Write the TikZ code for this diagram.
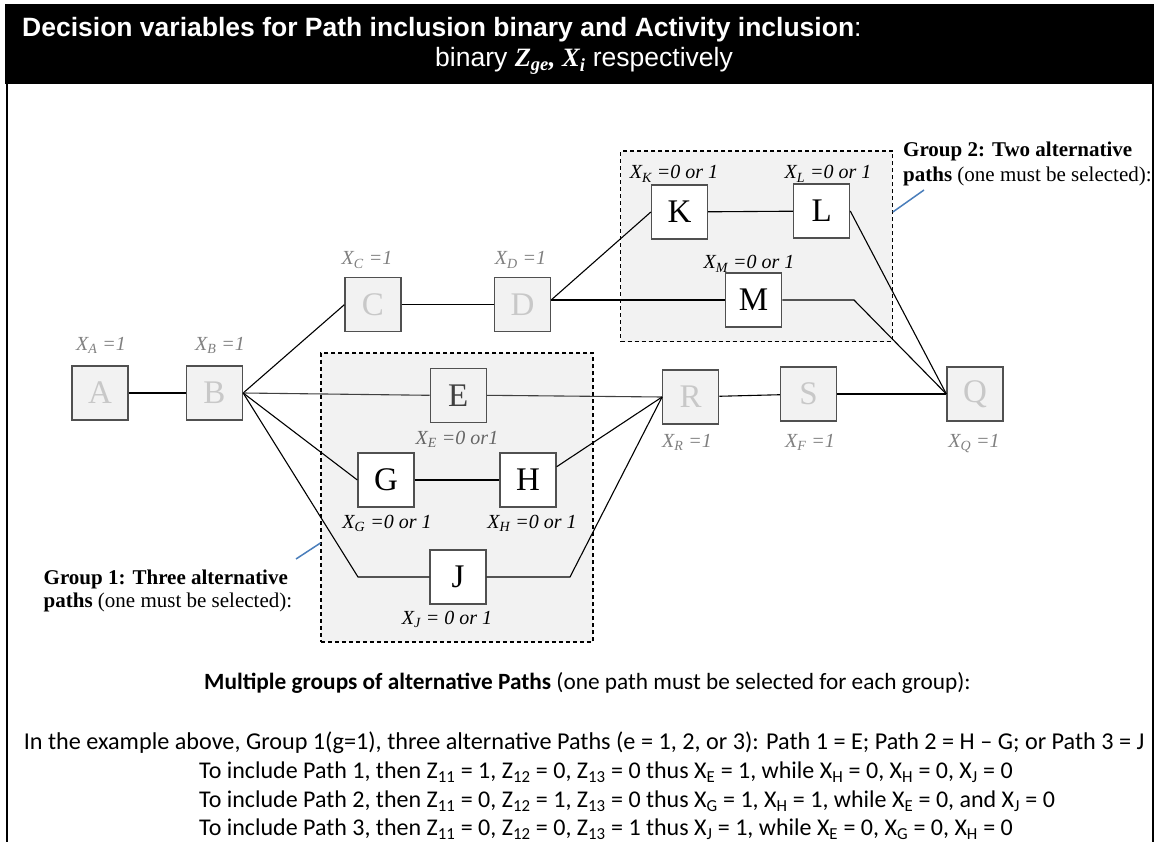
\documentclass[tikz,border=0pt]{standalone}
\usepackage{fontspec}
\setmainfont{Liberation Serif}
\newfontfamily\arialf{Liberation Sans}
\newfontfamily\calf{Carlito}
\usetikzlibrary{calc}
\definecolor{boxgray}{HTML}{F2F2F2}
\definecolor{lettergray}{HTML}{C8C8C8}
\definecolor{labelgray}{HTML}{808080}
\definecolor{edgegray}{HTML}{505050}
\definecolor{egray}{HTML}{404040}
\definecolor{calloutblue}{HTML}{4A7EBB}
\tikzset{
  act/.style={draw=edgegray, line width=1.3pt, minimum width=56pt, minimum height=54pt, inner sep=0pt, font=\fontsize{33}{33}\selectfont},
  fixedact/.style={act, fill=boxgray, text=lettergray},
  optact/.style={act, fill=white, text=black},
  eact/.style={act, fill=boxgray, text=egray},
  varlab/.style={font=\fontsize{20}{20}\selectfont\itshape, inner sep=0pt, anchor=base},
  fixedlab/.style={varlab, text=labelgray},
  conn/.style={line width=1.1pt, draw=black},
  econn/.style={line width=1.1pt, draw=egray},
  groupbox/.style={draw=black, line width=1.1pt, fill=boxgray, dash pattern=on 4pt off 3pt, inner sep=0pt},
  callout/.style={draw=calloutblue, line width=1.5pt},
  grouplab/.style={font=\fontsize{21}{24}\selectfont, anchor=base west, inner sep=0pt},
  bottomtxt/.style={font=\calf\fontsize{24}{29}\selectfont, inner sep=0pt, anchor=base west},
  titletxt/.style={font=\arialf\fontsize{26.5}{30}\selectfont, text=white, inner sep=0pt},
}
\begin{document}
\begin{tikzpicture}[x=1pt,y=-1pt]
\useasboundingbox (0,0) rectangle (1159,842);
\fill[white] (0,0) rectangle (1159,842);
% header and frame
\fill[black] (5,4) rectangle (1154,84);
\draw[line width=2pt] (6.5,83) -- (6.5,842);
\draw[line width=2pt] (1153,83) -- (1153,842);
\node[titletxt, anchor=base west] (title1) at (22,37) {\bfseries Decision variables for Path inclusion binary and Activity inclusion\mdseries:};
\node[titletxt, anchor=base east] (title2) at (733,67) {binary {\rmfamily\bfseries\itshape Z\textsubscript{ge}, X\textsubscript{i}} respectively};

% group boxes
\node[groupbox, minimum width=272pt, minimum height=289pt] (g1) at (457,497.5) {};
\node[groupbox, minimum width=271.6pt, minimum height=190.7pt] (g2) at (756.5,246.35) {};

% activities
\node[fixedact] (A) at (100,393) {A};
\node[fixedact] (B) at (214.5,393) {B};
\node[fixedact] (C) at (373,304.7) {C};
\node[fixedact] (D) at (522.5,304.7) {D};
\node[eact] (E) at (458.3,395.3) {E};
\node[optact] (G) at (386,480) {G};
\node[optact] (H) at (528,480) {H};
\node[optact] (J) at (458,577) {J};
\node[optact] (K) at (679.5,212) {K};
\node[optact] (L) at (821.6,211) {L};
\node[optact] (M) at (753.6,300) {M};
\node[fixedact] (R) at (690.7,397) {R};
\node[fixedact] (S) at (808.5,394) {S};
\node[fixedact] (Q) at (975,394) {Q};

% connectors
\draw[conn] (A) -- (B);
\draw[conn] (B.east) -- (C.west);
\draw[conn] (C) -- (D);
\coordinate (dout) at (D.east |- M.west);
\draw[conn] (dout) -- (K.west);
\draw[conn] (dout) -- (M.west);
\draw[conn] (K) -- (L);
\draw[conn] (L.east) -- (Q.west);
\coordinate (mbend) at (854,300);
\draw[conn] (M.east) -- (mbend) -- (Q.west);
\draw[econn] (B.east) -- (E.west);
\draw[econn] (E.east) -- (R.west);
\draw[conn] (B.east) -- (G.west);
\draw[conn] (G) -- (H);
\draw[conn] ($(H.north east)!0.26!(H.south east)$) -- (R.west);
\coordinate (jl) at (358,577);
\coordinate (jr) at (570,577);
\draw[conn] (B.east) -- (jl) -- (J.west);
\draw[conn] (J.east) -- (jr) -- (R.west);
\draw[conn] (R) -- (S);
\draw[conn] (S) -- (Q);

% variable labels
\node[fixedlab] (xA) at (101,350) {X\textsubscript{A} =1};
\node[fixedlab] (xB) at (220,350) {X\textsubscript{B} =1};
\node[fixedlab] (xC) at (367,265) {X\textsubscript{C} =1};
\node[fixedlab] (xD) at (520.5,265) {X\textsubscript{D} =1};
\node[varlab] (xK) at (674,179) {X\textsubscript{K} =0 or 1};
\node[varlab] (xL) at (828,179) {X\textsubscript{L} =0 or 1};
\node[varlab] (xM) at (749,269) {X\textsubscript{M} =0 or 1};
\node[varlab, text=egray!80] (xE) at (457,444) {X\textsubscript{E} =0 or1};
\node[varlab] (xG) at (387,528) {X\textsubscript{G} =0 or 1};
\node[varlab] (xH) at (532,528) {X\textsubscript{H} =0 or 1};
\node[varlab] (xJ) at (447,624) {X\textsubscript{J} = 0 or 1};
\node[fixedlab] (xR) at (687,447) {X\textsubscript{R} =1};
\node[fixedlab] (xF) at (810,447) {X\textsubscript{F} =1};
\node[fixedlab] (xQ) at (974,447) {X\textsubscript{Q} =1};

% group labels and callouts
\node[grouplab] (g2a) at (903,157) {\bfseries Group 2: Two alternative};
\node[grouplab] (g2b) at (903,182) {\textbf{paths} (one must be selected):};
\node[grouplab] (g1a) at (43.5,584) {\bfseries Group 1: Three alternative};
\node[grouplab] (g1b) at (43.5,607) {\textbf{paths} (one must be selected):};
\coordinate (c2) at (924,190);
\draw[callout] ($(g2.east)+(0,-34.35)$) -- (c2);
\coordinate (c1) at (296,559);
\draw[callout] ($(g1.west)+(0,45.5)$) -- (c1);

% bottom text
\node[bottomtxt, font=\calf\fontsize{23.3}{28}\selectfont] (b1) at (204,689) {\textbf{Multiple groups of alternative Paths} (one path must be selected for each group):};
\node[bottomtxt, anchor=base, font=\calf\fontsize{24.2}{29}\selectfont] (b2) at (584,749) {In the example above, Group 1(g=1), three alternative Paths (e = 1, 2, or 3): Path 1 = E; Path 2 = H – G; or Path 3 = J};
\node[bottomtxt] (b3) at (199,778.5) {To include Path 1, then Z\textsubscript{11} = 1, Z\textsubscript{12} = 0, Z\textsubscript{13} = 0 thus X\textsubscript{E} = 1, while X\textsubscript{H} = 0, X\textsubscript{H} = 0, X\textsubscript{J} = 0};
\node[bottomtxt] (b4) at (199,807.5) {To include Path 2, then Z\textsubscript{11} = 0, Z\textsubscript{12} = 1, Z\textsubscript{13} = 0 thus X\textsubscript{G} = 1, X\textsubscript{H} = 1, while X\textsubscript{E} = 0, and X\textsubscript{J} = 0};
\node[bottomtxt] (b5) at (199,835.5) {To include Path 3, then Z\textsubscript{11} = 0, Z\textsubscript{12} = 0, Z\textsubscript{13} = 1 thus X\textsubscript{J} = 1, while X\textsubscript{E} = 0, X\textsubscript{G} = 0, X\textsubscript{H} = 0};
\end{tikzpicture}
\end{document}
